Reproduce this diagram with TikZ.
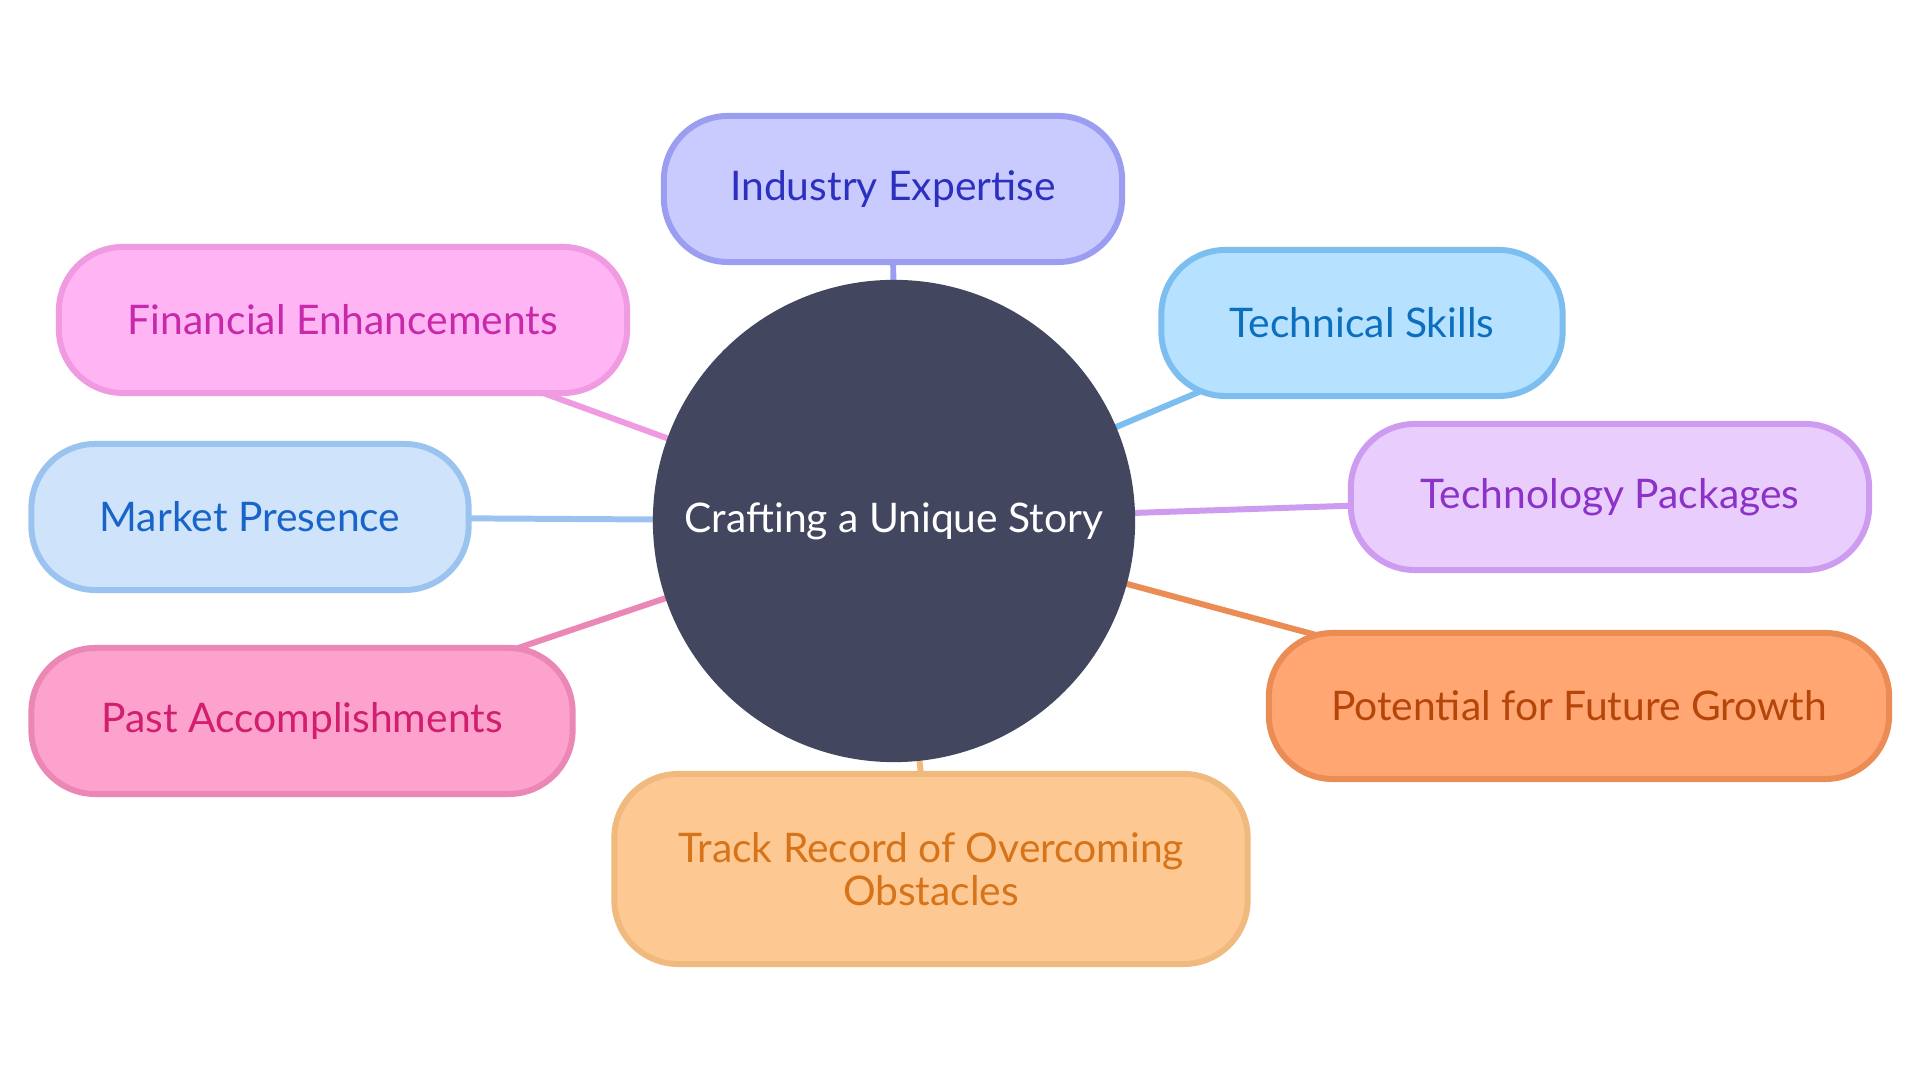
\documentclass[tikz,border=0pt]{standalone}
\usepackage{fontspec}
\setmainfont{Lato}
\usepackage{tikz}
\usetikzlibrary{backgrounds}
\definecolor{storydark}{RGB}{66,70,94}
\definecolor{indfill}{RGB}{201,202,253}  \definecolor{indline}{RGB}{155,158,240}  \definecolor{indtext}{RGB}{44,48,190}
\definecolor{finfill}{RGB}{255,180,243}  \definecolor{finline}{RGB}{240,155,225}  \definecolor{fintext}{RGB}{200,40,170}
\definecolor{tecfill}{RGB}{182,225,255}  \definecolor{tecline}{RGB}{125,190,240}  \definecolor{tectext}{RGB}{12,110,190}
\definecolor{mktfill}{RGB}{207,228,251}  \definecolor{mktline}{RGB}{155,195,240}  \definecolor{mkttext}{RGB}{25,100,200}
\definecolor{pkgfill}{RGB}{233,205,252}  \definecolor{pkgline}{RGB}{205,155,240}  \definecolor{pkgtext}{RGB}{140,50,200}
\definecolor{pstfill}{RGB}{253,162,205}  \definecolor{pstline}{RGB}{235,135,180}  \definecolor{psttext}{RGB}{210,30,110}
\definecolor{futfill}{RGB}{255,166,114}  \definecolor{futline}{RGB}{235,140,85}   \definecolor{futtext}{RGB}{180,70,10}
\definecolor{trkfill}{RGB}{254,200,146}  \definecolor{trkline}{RGB}{240,185,125}  \definecolor{trktext}{RGB}{215,115,25}

\begin{document}
\begin{tikzpicture}[x=0.01cm, y=-0.01cm, font=\fontsize{11.6}{12.2}\selectfont,
   b/.style={draw, line width=1.7pt, rounded corners=0.64cm, minimum height=1.46cm, inner sep=0pt, align=center},
   c/.style={circle, fill=storydark, text=white, minimum size=4.82cm, inner sep=0pt},
   l/.style={line width=1.7pt}]
  \useasboundingbox (0,0) rectangle (1920,1080);
  \node[c] (story) at (894,521) {Crafting a Unique Story};
  \node[b, draw=indline, fill=indfill, text=indtext, minimum width=4.58cm] (ind) at (893,189) {Industry Expertise};
  \node[b, draw=finline, fill=finfill, text=fintext, minimum width=5.68cm] (fin) at (343,320) {Financial Enhancements};
  \node[b, draw=tecline, fill=tecfill, text=tectext, minimum width=4.01cm] (tec) at (1362,323) {Technical Skills};
  \node[b, draw=mktline, fill=mktfill, text=mkttext, minimum width=4.37cm] (mkt) at (250,517) {Market Presence};
  \node[b, draw=pkgline, fill=pkgfill, text=pkgtext, minimum width=5.18cm] (pkg) at (1610,497) {Technology Packages};
  \node[b, draw=pstline, fill=pstfill, text=psttext, minimum width=5.41cm] (pst) at (302,721) {Past Accomplishments};
  \node[b, draw=futline, fill=futfill, text=futtext, minimum width=6.20cm] (fut) at (1579,706) {Potential for Future Growth};
  \node[b, draw=trkline, fill=trkfill, text=trktext, minimum width=6.33cm, minimum height=1.90cm] (trk) at (931,869) {Track Record of Overcoming\\Obstacles};
  \begin{scope}[on background layer]
    \draw[l, indline] (story.center) -- (ind.center); \draw[l, finline] (story.center) -- (fin.center);
    \draw[l, tecline] (story.center) -- (tec.center); \draw[l, mktline] (story.center) -- (mkt.center);
    \draw[l, pkgline] (story.center) -- (pkg.center); \draw[l, pstline] (story.center) -- (pst.center);
    \draw[l, futline] (story.center) -- (fut.center); \draw[l, trkline] (story.center) -- (trk.center);
  \end{scope}
\end{tikzpicture}
\end{document}
